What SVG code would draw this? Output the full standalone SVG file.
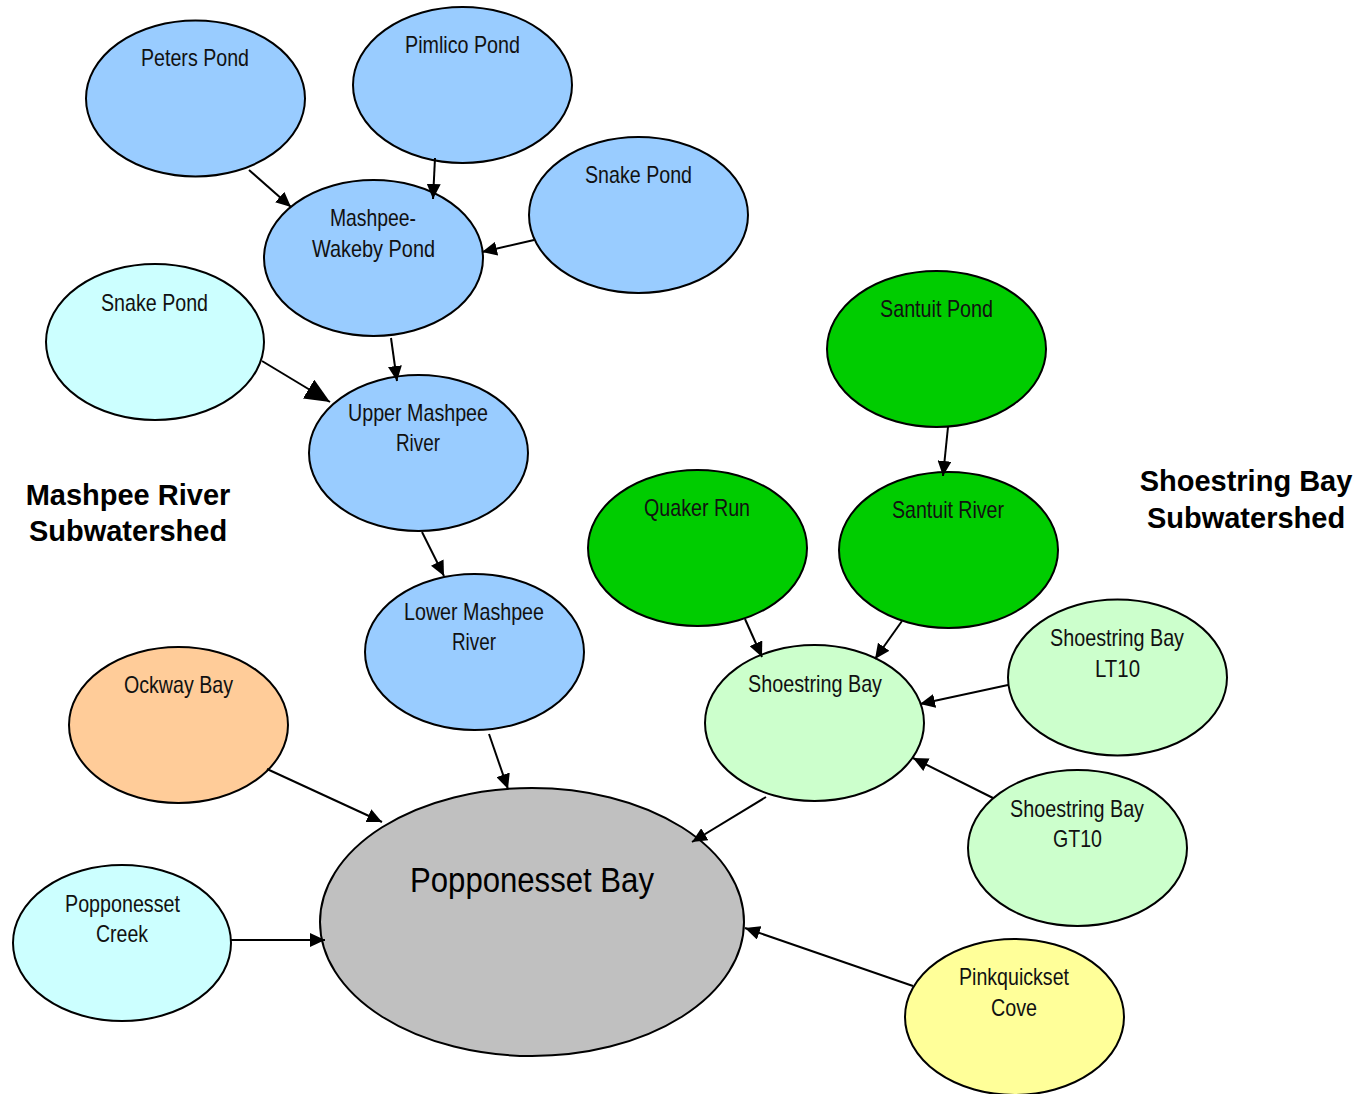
<svg xmlns="http://www.w3.org/2000/svg" width="1364" height="1094" viewBox="0 0 1364 1094">
<style>
.n{stroke:#000;stroke-width:2}
.t{font-family:"Liberation Sans Narrow","Liberation Sans",Arial,sans-serif;font-size:24px;fill:#111;text-anchor:middle}
.big{font-family:"Liberation Sans Narrow","Liberation Sans",Arial,sans-serif;font-size:35px;fill:#000;text-anchor:middle}
.lbl{font-family:"Liberation Sans",Arial,sans-serif;font-size:29px;font-weight:bold;fill:#000;text-anchor:middle}
.c line{stroke:#000;stroke-width:2;marker-end:url(#ah)}
.blue{fill:#99CCFF}.cyan{fill:#CCFFFF}.green{fill:#00CC00}.lg{fill:#CCFFCC}.org{fill:#FFCC99}.gray{fill:#C0C0C0}.yel{fill:#FFFF99}
</style>
<defs>
<marker id="ah" markerUnits="userSpaceOnUse" markerWidth="16" markerHeight="14" refX="15" refY="7" orient="auto"><path d="M0,0 L15,7 L0,14 z" fill="#000"/></marker>
<marker id="ahb" markerUnits="userSpaceOnUse" markerWidth="26" markerHeight="22" refX="25" refY="11" orient="auto"><path d="M0,0 L25,11 L0,22 z" fill="#000"/></marker>
</defs>
<g id="peters-pond"><ellipse class="n blue" cx="195.5" cy="98.5" rx="109.5" ry="78"/><text class="t" x="195" y="66" textLength="108" lengthAdjust="spacingAndGlyphs">Peters Pond</text></g>
<g id="pimlico-pond"><ellipse class="n blue" cx="462.5" cy="85" rx="109.5" ry="78"/><text class="t" x="462.5" y="53" textLength="115" lengthAdjust="spacingAndGlyphs">Pimlico Pond</text></g>
<g id="snake-pond-east"><ellipse class="n blue" cx="638.5" cy="215" rx="109.5" ry="78"/><text class="t" x="638.5" y="183" textLength="107" lengthAdjust="spacingAndGlyphs">Snake Pond</text></g>
<g id="mashpee-wakeby-pond"><ellipse class="n blue" cx="373.5" cy="258" rx="109.5" ry="78"/><text class="t" x="373" y="226" textLength="86" lengthAdjust="spacingAndGlyphs">Mashpee-</text><text class="t" x="373.5" y="257" textLength="123" lengthAdjust="spacingAndGlyphs">Wakeby Pond</text></g>
<g id="snake-pond-west"><ellipse class="n cyan" cx="155" cy="342" rx="109" ry="78"/><text class="t" x="154.5" y="311" textLength="107" lengthAdjust="spacingAndGlyphs">Snake Pond</text></g>
<g id="upper-mashpee-river"><ellipse class="n blue" cx="418.5" cy="453" rx="109.5" ry="78"/><text class="t" x="418" y="421" textLength="140" lengthAdjust="spacingAndGlyphs">Upper Mashpee</text><text class="t" x="418" y="451" textLength="44" lengthAdjust="spacingAndGlyphs">River</text></g>
<g id="lower-mashpee-river"><ellipse class="n blue" cx="474.5" cy="652" rx="109.5" ry="78"/><text class="t" x="474" y="620" textLength="140" lengthAdjust="spacingAndGlyphs">Lower Mashpee</text><text class="t" x="474" y="650" textLength="44" lengthAdjust="spacingAndGlyphs">River</text></g>
<g id="santuit-pond"><ellipse class="n green" cx="936.5" cy="349" rx="109.5" ry="78"/><text class="t" x="936.5" y="317" textLength="113" lengthAdjust="spacingAndGlyphs">Santuit Pond</text></g>
<g id="quaker-run"><ellipse class="n green" cx="697.5" cy="548" rx="109.5" ry="78"/><text class="t" x="697" y="516" textLength="106" lengthAdjust="spacingAndGlyphs">Quaker Run</text></g>
<g id="santuit-river"><ellipse class="n green" cx="948.5" cy="550" rx="109.5" ry="78"/><text class="t" x="948" y="518" textLength="112" lengthAdjust="spacingAndGlyphs">Santuit River</text></g>
<g id="shoestring-bay"><ellipse class="n lg" cx="814.5" cy="723" rx="109.5" ry="78"/><text class="t" x="815" y="692" textLength="134" lengthAdjust="spacingAndGlyphs">Shoestring Bay</text></g>
<g id="shoestring-bay-lt10"><ellipse class="n lg" cx="1117.5" cy="677.5" rx="109.5" ry="78"/><text class="t" x="1117" y="646" textLength="134" lengthAdjust="spacingAndGlyphs">Shoestring Bay</text><text class="t" x="1117.5" y="677" textLength="45" lengthAdjust="spacingAndGlyphs">LT10</text></g>
<g id="shoestring-bay-gt10"><ellipse class="n lg" cx="1077.5" cy="848" rx="109.5" ry="78"/><text class="t" x="1077" y="817" textLength="134" lengthAdjust="spacingAndGlyphs">Shoestring Bay</text><text class="t" x="1077.5" y="847" textLength="49" lengthAdjust="spacingAndGlyphs">GT10</text></g>
<g id="ockway-bay"><ellipse class="n org" cx="178.5" cy="725" rx="109.5" ry="78"/><text class="t" x="178.5" y="693" textLength="109" lengthAdjust="spacingAndGlyphs">Ockway Bay</text></g>
<g id="popponesset-creek"><ellipse class="n cyan" cx="122" cy="943" rx="109" ry="78"/><text class="t" x="122.5" y="912" textLength="115" lengthAdjust="spacingAndGlyphs">Popponesset</text><text class="t" x="122" y="942" textLength="52" lengthAdjust="spacingAndGlyphs">Creek</text></g>
<g id="popponesset-bay"><ellipse class="n gray" cx="532" cy="922" rx="212" ry="134"/><text class="big" x="532" y="892" textLength="244" lengthAdjust="spacingAndGlyphs">Popponesset Bay</text></g>
<g id="pinkquickset-cove"><ellipse class="n yel" cx="1014.5" cy="1017" rx="109.5" ry="78"/><text class="t" x="1014" y="985" textLength="110" lengthAdjust="spacingAndGlyphs">Pinkquickset</text><text class="t" x="1014" y="1016" textLength="46" lengthAdjust="spacingAndGlyphs">Cove</text></g>
<g id="label-mashpee"><text class="lbl" x="128" y="505">Mashpee River</text><text class="lbl" x="128" y="541">Subwatershed</text></g>
<g id="label-shoestring"><text class="lbl" x="1246" y="491">Shoestring Bay</text><text class="lbl" x="1246" y="528">Subwatershed</text></g>
<g id="connectors" class="c">
<line x1="249" y1="170" x2="291" y2="207"/>
<line x1="435" y1="158" x2="433" y2="199"/>
<line x1="534" y1="240" x2="482" y2="252"/>
<line x1="391" y1="338" x2="397" y2="381"/>
<line x1="262" y1="361" x2="330" y2="402" style="marker-end:url(#ahb)"/>
<line x1="422" y1="532" x2="444" y2="576"/>
<line x1="489" y1="734" x2="508" y2="789"/>
<line x1="948" y1="427" x2="943" y2="476"/>
<line x1="745" y1="619" x2="762" y2="657"/>
<line x1="902" y1="621" x2="875" y2="659"/>
<line x1="1008" y1="685" x2="920" y2="704"/>
<line x1="993" y1="798" x2="913" y2="758"/>
<line x1="766" y1="797" x2="692" y2="842"/>
<line x1="267" y1="769" x2="382" y2="822"/>
<line x1="231" y1="940" x2="325" y2="940"/>
<line x1="913" y1="986" x2="745" y2="928"/>
</g>
</svg>
